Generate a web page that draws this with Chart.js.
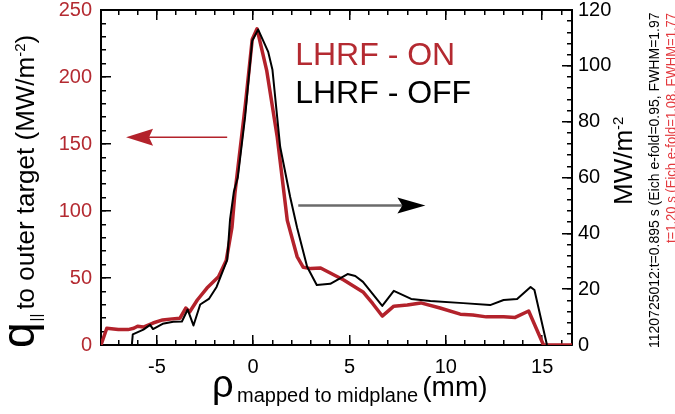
<!DOCTYPE html>
<html>
<head>
<meta charset="utf-8">
<script src="https://cdn.jsdelivr.net/npm/chart.js@4/dist/chart.umd.min.js"></script>
<style>
  html, body { margin: 0; padding: 0; background: #fff; }
</style>
</head>
<body>
<canvas id="myChart" width="675" height="414"></canvas>
<script>
// tick labels
const xTicks = [-5, 0, 5, 10, 15];
const leftTicks = [0, 50, 100, 150, 200, 250];
const rightTicks = [0, 20, 40, 60, 80, 100, 120];

// LHRF - ON (left axis, MW/m^2)
const onX = [-7.9, -7.6, -7.0, -6.5, -6.2, -6.0, -5.7, -5.2, -4.7, -4.2, -3.8, -3.5, -3.3, -2.9, -2.4, -1.8, -1.4, -1.1, -0.95, -0.4, -0.05, 0.2, 0.7, 1.25, 1.77, 2.28, 2.6, 3.0, 3.5, 4.0, 4.7, 5.7, 6.2, 6.7, 7.3, 8.0, 8.7, 9.7, 10.75, 11.4, 12.1, 13.0, 13.6, 14.3, 15.07, 16.6];
const onY = [0, 12.5, 11.5, 11.5, 12.5, 14, 13.4, 16.4, 18.7, 19.5, 20, 27.6, 24.6, 33.6, 42.5, 51, 63, 88, 113, 180, 228, 236, 205, 155, 93, 66, 58, 57, 57.5, 53.7, 48.5, 39.6, 31, 21.6, 29, 29.8, 31.4, 27.6, 23, 22.4, 21, 21, 20.6, 25.4, 0, 0];

// LHRF - OFF (right axis, MW/m^2)
const offX = [-6.3, -6.25, -5.7, -5.35, -5.2, -4.7, -4.15, -3.7, -3.4, -3.1, -2.75, -2.3, -1.9, -1.35, -1.2, -1.0, -0.8, -0.42, -0.05, 0.26, 0.78, 1.0, 1.4, 1.92, 2.28, 2.8, 3.3, 4.0, 4.9, 5.3, 5.7, 6.7, 7.3, 8.2, 9.2, 10.9, 12.3, 13.0, 13.7, 14.4, 14.6, 15.25];
const offY = [0, 3.8, 5.5, 7.2, 5.7, 7.6, 8.3, 8.4, 12.7, 7.0, 14.5, 16.5, 20.8, 30.5, 45, 55, 60, 81.7, 109, 113, 105, 98.6, 71, 53, 42, 28, 21.5, 21.9, 25.4, 24.7, 22.6, 14, 19.4, 16.5, 15.8, 15, 14.3, 16.1, 16.5, 20.8, 19.7, 0];

const RED = '#b3222b';
const RED_TEXT = '#b42a31';
const RED_NOTE = '#e3393e';
const FONT = "'Liberation Sans', Arial, Helvetica, sans-serif";
const X_MIN = -7.9, X_MAX = 16.55;

Chart.defaults.font.family = FONT;

const toPoints = (xs, ys) => xs.map((x, i) => ({ x: x, y: ys[i] }));

function range(a, b, step) {
    const out = [];
    for (let v = a; v <= b; v += step) out.push(v);
    return out;
}

function fixTicks(values) {
    return function (scale) {
        scale.ticks = values.map(v => ({ value: v }));
    };
}

// inward tick marks (negative tick length) without grid lines
const inTicks = len => ({
    display: true, drawOnChartArea: false, drawTicks: true,
    tickLength: -len, color: '#000', lineWidth: 1.5
});
const box = { display: true, color: '#000', width: 2 };
const noBox = { display: false };

function sizeH(h) {
    return s => { s.height = h; s.paddingLeft = 0; s.paddingRight = 0; };
}
function sizeW(w) {
    return s => { s.width = w; s.paddingTop = 0; s.paddingBottom = 0; };
}

// minor-tick-only axis of zero thickness
function minorAxis(pos, min, max, values) {
    const horiz = pos === 'top' || pos === 'bottom';
    return {
        type: 'linear', position: pos, min: min, max: max, weight: -1,
        grid: inTicks(5), border: noBox,
        ticks: { display: false },
        afterBuildTicks: fixTicks(values),
        afterFit: horiz ? sizeH(0) : sizeW(0)
    };
}

function arrow(ctx, x1, y, x2, lineColor, headColor, lw, headLen, headHalf, notch) {
    const dir = Math.sign(x2 - x1);
    ctx.save();
    ctx.strokeStyle = lineColor;
    ctx.lineWidth = lw;
    ctx.beginPath();
    ctx.moveTo(x1, y);
    ctx.lineTo(x2 - dir * headLen * 0.6, y);
    ctx.stroke();
    ctx.fillStyle = headColor;
    ctx.beginPath();
    ctx.moveTo(x2, y);
    ctx.lineTo(x2 - dir * headLen, y - headHalf);
    ctx.lineTo(x2 - dir * (headLen - notch), y);
    ctx.lineTo(x2 - dir * headLen, y + headHalf);
    ctx.closePath();
    ctx.fill();
    ctx.restore();
}

// titles, arrows and notes
const labels = {
    id: 'labels',
    afterDraw(chart) {
        const ctx = chart.ctx;
        const sx = chart.scales.x, sl = chart.scales.yL, sr = chart.scales.yR;
        ctx.save();
        ctx.textBaseline = 'alphabetic';
        ctx.textAlign = 'left';

        // legend-like text
        ctx.font = '32px ' + FONT;
        ctx.fillStyle = RED_TEXT;
        ctx.fillText('LHRF - ON', sx.getPixelForValue(2.18), sl.getPixelForValue(209));
        ctx.fillStyle = '#000';
        ctx.fillText('LHRF - OFF', sx.getPixelForValue(2.18), sl.getPixelForValue(180.6));

        // arrows
        arrow(ctx, sx.getPixelForValue(-1.35), sl.getPixelForValue(155), sx.getPixelForValue(-6.6),
            RED, RED, 1.5, 27, 8.5, 4);
        arrow(ctx, sx.getPixelForValue(2.34), sr.getPixelForValue(50), sx.getPixelForValue(8.94),
            '#6b6b6b', '#000', 2.5, 28, 8, 5);

        // x title
        ctx.fillStyle = '#000';
        ctx.font = '38px ' + FONT;
        ctx.fillText('ρ', 212, 397);
        ctx.font = '20px ' + FONT;
        ctx.fillText('mapped to midplane', 237, 402);
        let xe = 237 + ctx.measureText('mapped to midplane').width + 4;
        ctx.font = '28px ' + FONT;
        ctx.fillText('(mm)', xe, 396);

        // left title (rotated); rotated coords: (x', y') = (-y, x)
        ctx.save();
        ctx.rotate(-Math.PI / 2);
        let y0 = 348;
        ctx.font = '46px ' + FONT;
        ctx.fillText('q', -y0, 34);
        y0 -= ctx.measureText('q').width + 1;
        ctx.font = '15px ' + FONT;
        ctx.fillText('||', -y0, 41);
        y0 -= ctx.measureText('||').width + 4;
        ctx.font = '26px ' + FONT;
        ctx.fillText('to outer target (MW/m', -y0, 33.5);
        y0 -= ctx.measureText('to outer target (MW/m').width;
        ctx.font = '15px ' + FONT;
        ctx.fillText('-2', -y0, 25);
        y0 -= ctx.measureText('-2').width;
        ctx.font = '26px ' + FONT;
        ctx.fillText(')', -y0, 33.5);

        // right title
        let y1 = 205;
        ctx.font = '26px ' + FONT;
        ctx.fillText('MW/m', -y1, 632);
        y1 -= ctx.measureText('MW/m').width;
        ctx.font = '15px ' + FONT;
        ctx.fillText('-2', -y1, 623);

        // shot notes
        ctx.font = '14px ' + FONT;
        ctx.fillStyle = '#000';
        ctx.fillText('1120725012:t=0.895 s (Eich e-fold=0.95, FWHM=1.97', -348, 659, 338);
        ctx.fillStyle = RED_NOTE;
        ctx.fillText('t=1.20 s (Eich e-fold=1.08, FWHM=1.77', -243, 676, 230);
        ctx.restore();

        ctx.restore();
    }
};

const ctx1 = document.getElementById('myChart');

let data1 = {
    datasets: [{
        label: 'LHRF - ON',
        data: toPoints(onX, onY),
        yAxisID: 'yL',
        xAxisID: 'x',
        borderColor: RED,
        borderWidth: 3.5,
        borderJoinStyle: 'round',
        fill: false,
        order: 2
    }, {
        label: 'LHRF - OFF',
        data: toPoints(offX, offY),
        yAxisID: 'yR',
        xAxisID: 'x',
        borderColor: '#000',
        borderWidth: 2,
        borderJoinStyle: 'round',
        fill: false,
        order: 1
    }]
};

let options = {
    responsive: false,
    devicePixelRatio: 1,
    animation: false,
    layout: { padding: 0 },
    elements: {
        point: { radius: 0 },
        line: { tension: 0 }
    },
    plugins: {
        legend: { display: false },
        tooltip: { enabled: false }
    },
    scales: {
        x: {
            type: 'linear', position: 'bottom', min: X_MIN, max: X_MAX,
            grid: inTicks(10), border: box,
            afterBuildTicks: fixTicks(xTicks),
            afterFit: sizeH(69),
            ticks: {
                color: '#000', padding: 20, maxRotation: 0, autoSkip: false,
                font: { size: 20, lineHeight: 1.2 }
            }
        },
        xm: minorAxis('bottom', X_MIN, X_MAX, range(-7, 16, 1)),
        xt: {
            type: 'linear', position: 'top', min: X_MIN, max: X_MAX,
            grid: inTicks(10), border: box,
            ticks: { display: false },
            afterBuildTicks: fixTicks(xTicks),
            afterFit: sizeH(10)
        },
        xtm: minorAxis('top', X_MIN, X_MAX, range(-7, 16, 1)),
        yL: {
            type: 'linear', position: 'left', min: 0, max: 250,
            grid: inTicks(10), border: box,
            afterBuildTicks: fixTicks(leftTicks),
            afterFit: sizeW(101),
            ticks: {
                color: RED_TEXT, padding: 19, autoSkip: false,
                font: { size: 20, lineHeight: 1.2 }
            }
        },
        yLm: minorAxis('left', 0, 250, range(0, 250, 10)),
        yR: {
            type: 'linear', position: 'right', min: 0, max: 120,
            grid: inTicks(10), border: box,
            afterBuildTicks: fixTicks(rightTicks),
            afterFit: sizeW(103),
            ticks: {
                color: '#000', padding: 16, autoSkip: false,
                font: { size: 20, lineHeight: 1.2 }
            }
        },
        yRm: minorAxis('right', 0, 120, range(0, 120, 4))
    }
};

var myChart = new Chart(ctx1, {
    type: 'line',
    data: data1,
    options: options,
    plugins: [labels]
});
</script>
</body>
</html>
